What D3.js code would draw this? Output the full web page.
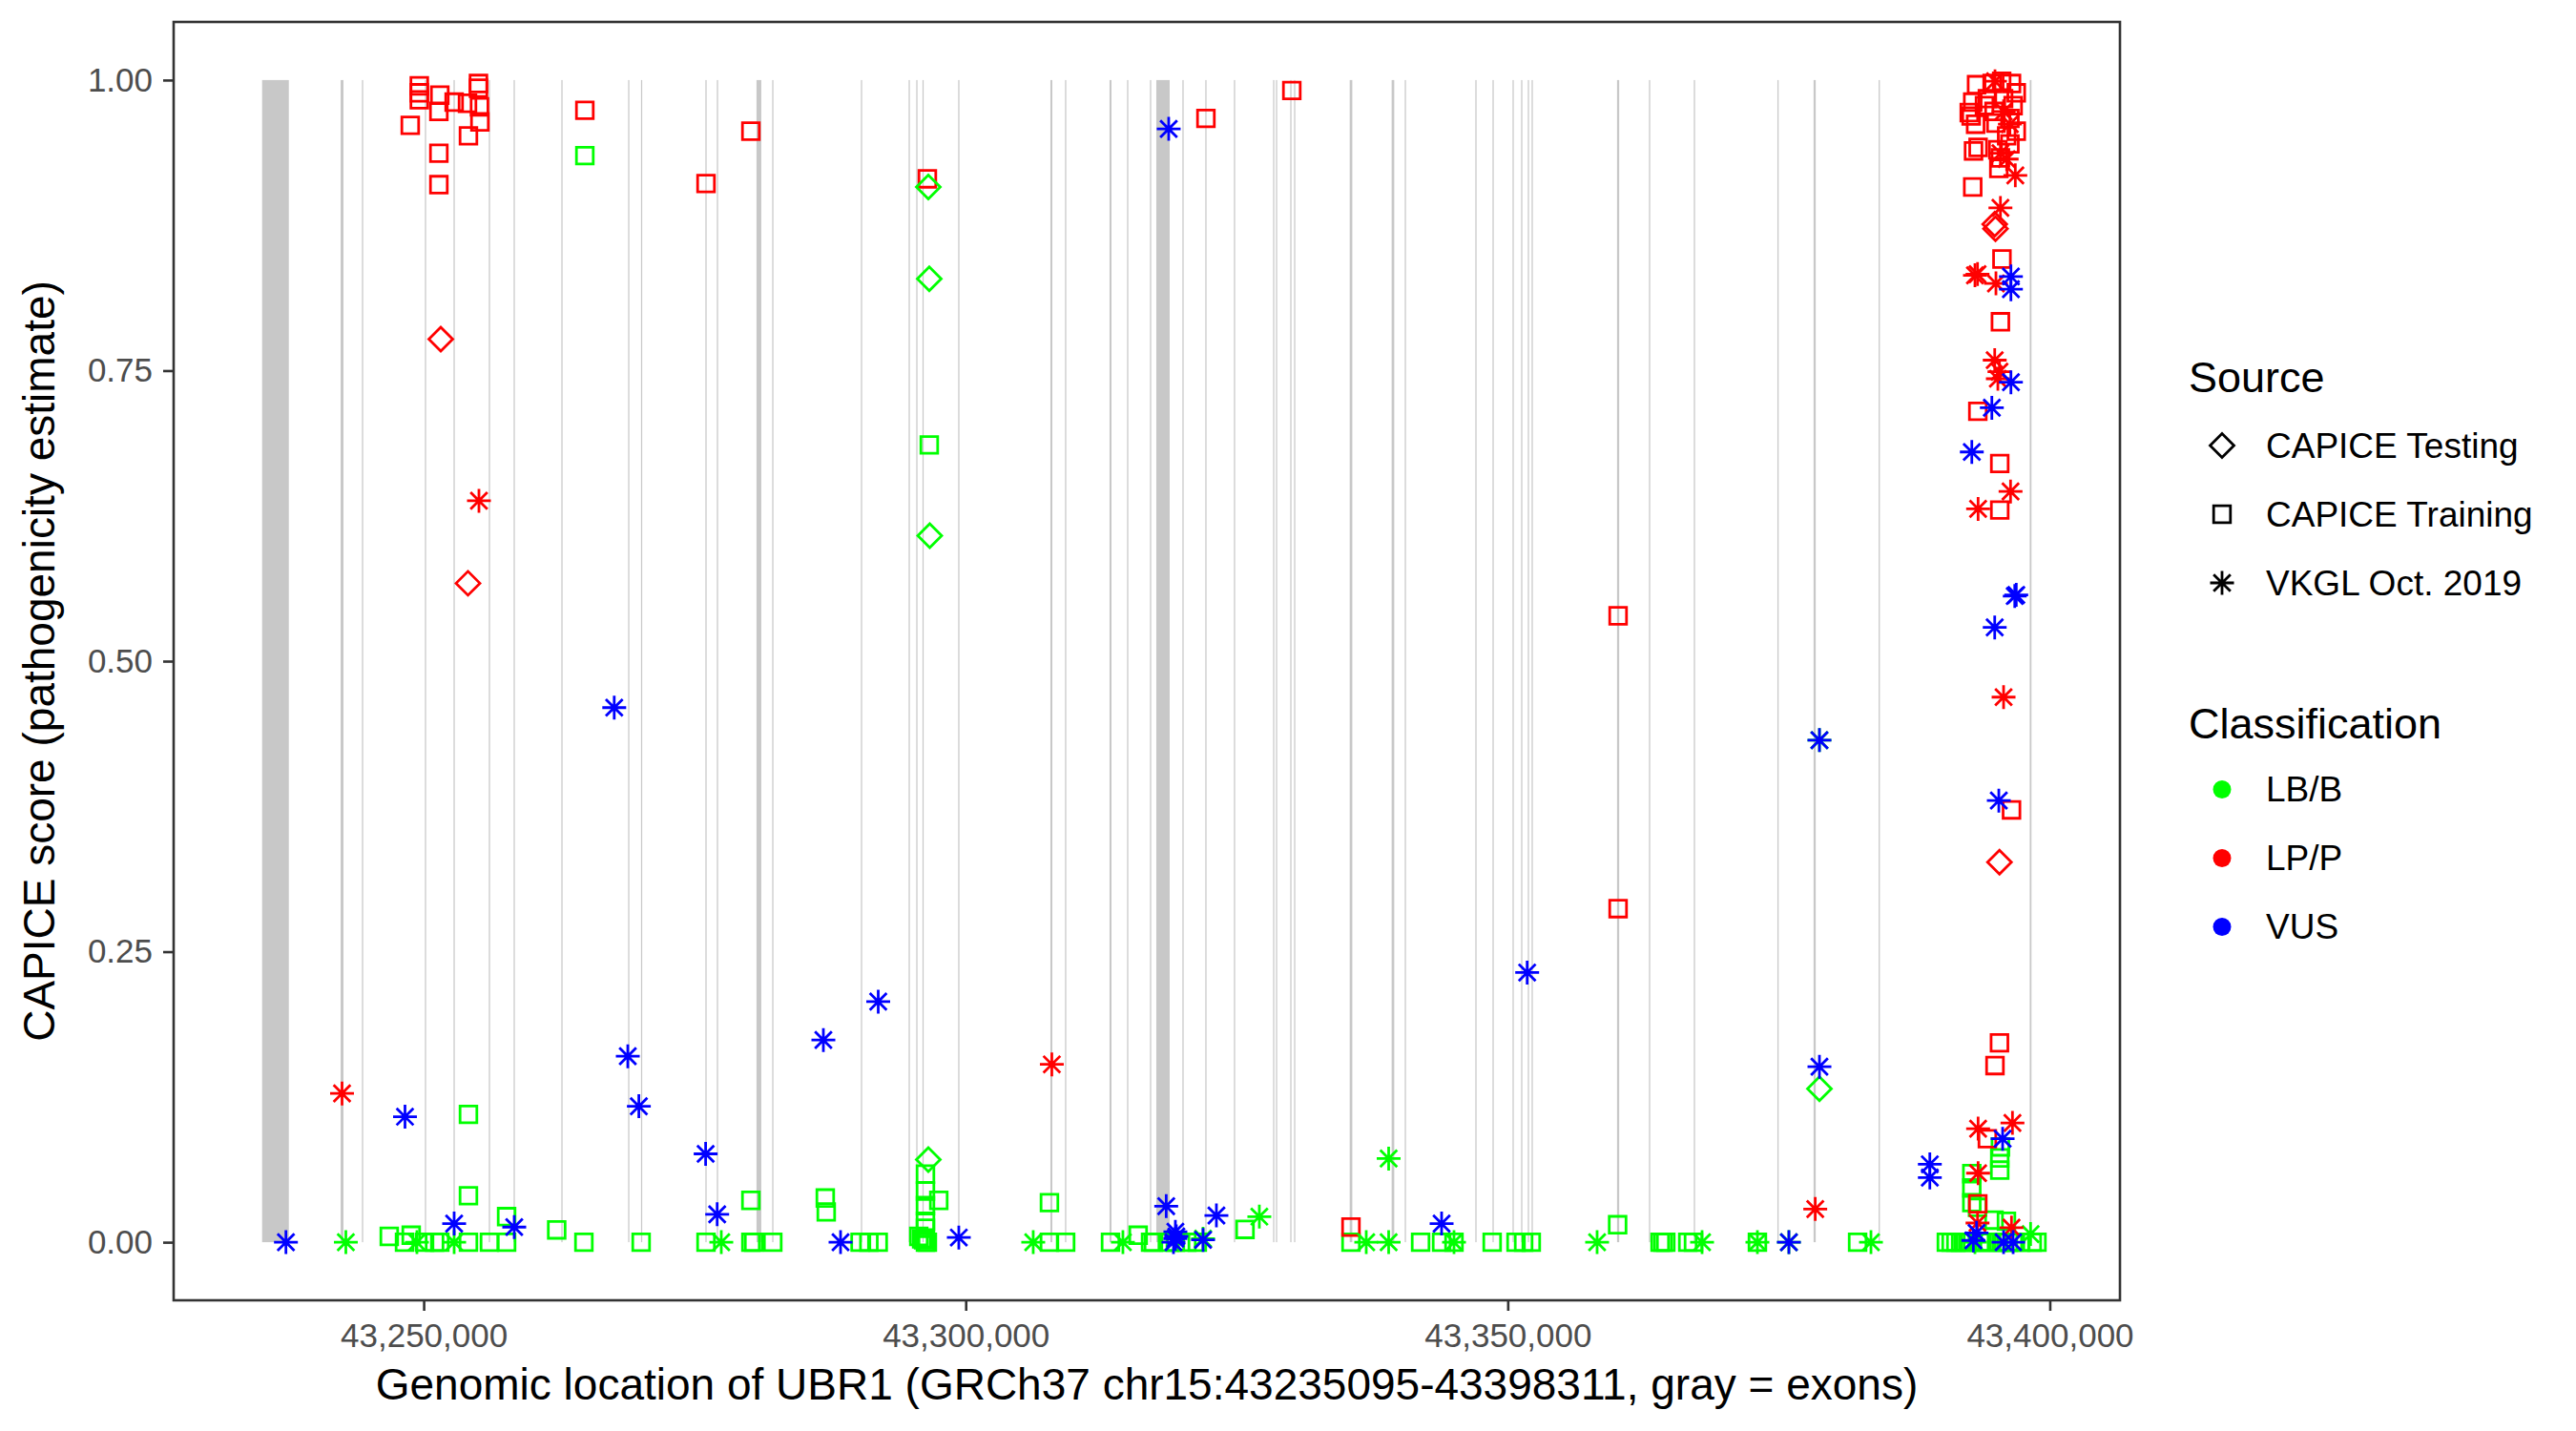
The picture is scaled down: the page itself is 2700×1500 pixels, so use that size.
<!DOCTYPE html>
<html>
<head>
<meta charset="utf-8">
<script src="https://cdn.jsdelivr.net/npm/d3@7"></script>
<style>
  body { margin: 0; background: #fff; }
  svg { display: block; font-family: "Liberation Sans", Arial, Helvetica, sans-serif; }
</style>
</head>
<body>
<svg id="chart" width="2700" height="1500"></svg>
<script>
// ---- data ----
const sources = ['CAPICE Testing', 'CAPICE Training', 'VKGL Oct. 2019']
const classes = ['LB/B', 'LP/P', 'VUS']
const xTicks = [43250000, 43300000, 43350000, 43400000]
const yTicks = [0, 0.25, 0.5, 0.75, 1]

// gray = exons
const exonStarts = [43235095, 43242340, 43244305, 43250113, 43252754, 43256010, 43258298, 43262699, 43268860, 43270048,
  43275988, 43277045, 43280700, 43282149, 43290334, 43294735, 43295439, 43296011, 43299307, 43307810,
  43309164, 43313266, 43314885, 43316997, 43317580, 43319990, 43322102, 43324742, 43328354, 43328618,
  43329938, 43330290, 43335420, 43339290, 43340499, 43347011, 43348595, 43350443, 43351235, 43351851,
  43352203, 43360080, 43363028, 43367165, 43374875, 43378210, 43384215, 43398150]
const exonEnds = [43237560, 43242600, 43244415, 43250223, 43252864, 43256120, 43258408, 43262809, 43268970, 43270158,
  43276098, 43277155, 43281140, 43282259, 43290444, 43294845, 43295549, 43296121, 43299417, 43307990,
  43309274, 43313446, 43314995, 43317107, 43318812, 43320100, 43322212, 43324852, 43328464, 43328728,
  43330048, 43330400, 43335660, 43339530, 43340609, 43347121, 43348705, 43350553, 43351345, 43351961,
  43352313, 43360280, 43363138, 43367275, 43374985, 43378410, 43384325, 43398311]

// [position, CAPICE score]
const trainingLBB = [
  [43264866, 0.935], [43296638, 0.686], [43254129, 0.110], [43254129, 0.040], [43257649, 0.022], [43262270, 0.0106],
  [43280180, 0.036], [43287045, 0.038], [43287133, 0.026], [43296286, 0.0586], [43296286, 0.044], [43296286, 0.0315],
  [43296286, 0.018], [43296286, 0.012], [43297514, 0.036], [43307723, 0.034], [43325765, 0.011], [43360135, 0.015],
  [43246824, 0.005], [43248232, 0], [43248848, 0.006], [43250080, 0], [43251005, 0], [43251488, 0], [43254129, 0],
  [43256065, 0], [43257649, 0], [43264778, 0], [43270059, 0], [43276043, 0], [43280180, 0], [43280444, 0],
  [43282204, 0], [43290257, 0], [43291067, 0], [43291929, 0], [43295670, 0.005], [43295934, 0.003], [43296110, 0.002],
  [43296286, 0], [43296462, 0], [43307723, 0], [43309219, 0], [43313356, 0], [43315908, 0.006], [43317052, 0],
  [43317316, 0], [43318812, 0], [43319340, 0], [43320397, 0], [43321365, 0], [43335538, 0], [43341962, 0],
  [43343898, 0], [43345042, 0], [43348562, 0], [43350762, 0], [43351466, 0], [43352170, 0], [43364052, 0],
  [43364316, 0], [43364580, 0], [43366604, 0], [43367132, 0], [43373029, 0], [43382272, 0],
  [43390457, 0], [43390897, 0], [43391337, 0], [43391777, 0], [43392217, 0], [43392657, 0], [43393537, 0],
  [43393977, 0], [43394417, 0], [43395297, 0], [43395737, 0], [43396177, 0], [43396618, 0], [43397322, 0],
  [43398378, 0], [43398818, 0],
  [43395446, 0.082], [43395385, 0.0725], [43395385, 0.062], [43392807, 0.059], [43392807, 0.0466], [43392807, 0.034],
  [43393334, 0.030], [43394857, 0.019], [43396001, 0.018]
]
const trainingLPP = [
  [43249596, 0.995], [43249596, 0.989], [43249596, 0.983], [43251488, 0.987], [43252809, 0.981], [43254041, 0.980],
  [43255053, 0.997], [43255053, 0.993], [43255150, 0.977], [43255185, 0.964], [43251400, 0.973], [43248760, 0.961],
  [43254129, 0.952], [43251400, 0.937], [43251400, 0.910], [43264866, 0.974], [43280180, 0.956], [43276043, 0.911],
  [43296462, 0.915], [43322157, 0.967], [43330081, 0.991], [43360179, 0.539], [43360179, 0.287], [43335538, 0.013],
  [43393246, 0.996], [43392892, 0.981], [43392745, 0.969], [43393158, 0.962], [43392965, 0.939], [43393387, 0.942],
  [43392892, 0.908], [43394681, 0.997], [43395561, 0.999], [43396468, 0.997], [43396908, 0.989], [43396618, 0.978],
  [43394857, 0.973], [43395033, 0.963], [43396321, 0.967], [43396908, 0.956], [43396022, 0.952], [43395209, 0.940],
  [43396321, 0.945], [43395297, 0.924], [43395446, 0.933], [43394241, 0.984], [43395737, 0.984], [43395588, 0.846],
  [43395446, 0.792], [43392569, 0.972], [43393977, 0.978], [43393361, 0.715], [43395385, 0.670], [43395385, 0.630],
  [43396468, 0.372], [43395359, 0.1715], [43394945, 0.152], [43394241, 0.089], [43393361, 0.033]
]
const testingLBB = [[43296550, 0.908], [43296638, 0.829], [43296682, 0.608], [43296550, 0.071], [43378751, 0.132]]
const testingLPP = [[43251576, 0.777], [43254085, 0.567], [43394919, 0.876], [43394990, 0.872], [43395359, 0.327]]
const vkglLBB = [
  [43242820, 0], [43249376, 0], [43252809, 0], [43277452, 0], [43306227, 0], [43314500, 0], [43321893, 0.003],
  [43327085, 0.022], [43336946, 0], [43339014, 0.072], [43339014, 0], [43345042, 0], [43358242, 0], [43367924, 0],
  [43373029, 0], [43375933, 0], [43378751, 0.432], [43383504, 0], [43393097, 0], [43398229, 0.007]
]
const vkglLPP = [
  [43242468, 0.128], [43255097, 0.638], [43307943, 0.153], [43378364, 0.0285], [43394945, 0.999], [43395446, 0.937],
  [43396022, 0.932], [43396820, 0.918], [43395446, 0.890], [43393334, 0.833], [43393097, 0.832], [43395033, 0.825],
  [43395737, 0.973], [43396321, 0.962], [43394919, 0.759], [43395359, 0.749], [43395209, 0.743], [43396380, 0.646],
  [43393387, 0.631], [43395737, 0.469], [43393387, 0.0977], [43396556, 0.1026], [43393387, 0.0594], [43393334, 0.0165],
  [43396468, 0.0125]
]
const vkglVUS = [
  [43237293, 0], [43248276, 0.108], [43252809, 0.016], [43258353, 0.013], [43267577, 0.460], [43268827, 0.160],
  [43269848, 0.117], [43276008, 0.076], [43277073, 0.024], [43286869, 0.174], [43288453, 0], [43291929, 0.207],
  [43299362, 0.004], [43318495, 0.031], [43319340, 0.009], [43319340, 0.003], [43319164, 0], [43319428, 0.005],
  [43318724, 0.958], [43323125, 0.023], [43321893, 0.002], [43343898, 0.016], [43351791, 0.232], [43375933, 0],
  [43378751, 0.432], [43378751, 0.151], [43396415, 0.831], [43396415, 0.820], [43396415, 0.740], [43394655, 0.718],
  [43392807, 0.680], [43396767, 0.556], [43396908, 0.557], [43394919, 0.529], [43395297, 0.380], [43395649, 0.089],
  [43388934, 0.067], [43388934, 0.0556], [43392950, 0.0015], [43395737, 0], [43396618, 0], [43393246, 0.008]
]

// ---- layout ----
const panel = {left: 182, right: 2222, top: 23, bottom: 1363}
const colors = {'LB/B': '#00ff00', 'LP/P': '#ff0000', 'VUS': '#0000ff'}
const font = '"Liberation Sans", Arial, Helvetica, sans-serif'

// draw order like the data rows: training, testing, vkgl
let layers = [
  {src: 'CAPICE Training', cls: 'LB/B', pts: trainingLBB},
  {src: 'CAPICE Training', cls: 'LP/P', pts: trainingLPP},
  {src: 'CAPICE Testing', cls: 'LB/B', pts: testingLBB},
  {src: 'CAPICE Testing', cls: 'LP/P', pts: testingLPP},
  {src: 'VKGL Oct. 2019', cls: 'LB/B', pts: vkglLBB},
  {src: 'VKGL Oct. 2019', cls: 'LP/P', pts: vkglLPP},
  {src: 'VKGL Oct. 2019', cls: 'VUS', pts: vkglVUS}
]

// x range = exon span + 5% each side (ggplot default)
let xMin = d3.min(exonStarts)
let xMax = d3.max(exonEnds)
let xPad = (xMax - xMin) * 0.05
let xScale = d3.scaleLinear().domain([xMin - xPad, xMax + xPad]).range([panel.left, panel.right])
let yScale = d3.scaleLinear().domain([-0.05, 1.05]).range([panel.bottom, panel.top])

// marker paths (R pch 5, 0, 8)
function shapePath(src) {
  if (src === 'CAPICE Testing') {
    let d = 12.5
    return `M0,${-d}L${d},0L0,${d}L${-d},0Z`
  }
  if (src === 'CAPICE Training') {
    let s = 8.8
    return `M${-s},${-s}H${s}V${s}H${-s}Z`
  }
  let a = 12.5, b = a * Math.SQRT1_2
  return `M${-a},0H${a}M0,${-a}V${a}M${-b},${-b}L${b},${b}M${-b},${b}L${b},${-b}`
}

let svg = d3.select('#chart')

svg.append('defs').append('clipPath').attr('id', 'panel-clip')
  .append('rect')
  .attr('x', panel.left).attr('y', panel.top)
  .attr('width', panel.right - panel.left).attr('height', panel.bottom - panel.top)

let plot = svg.append('g').attr('clip-path', 'url(#panel-clip)')

// exons
let exons = exonStarts.map((s, i) => ({start: s, end: exonEnds[i]}))
plot.append('g').selectAll('rect').data(exons).join('rect')
  .attr('x', d => xScale(d.start))
  .attr('width', d => Math.max(1, xScale(d.end) - xScale(d.start)))
  .attr('y', yScale(1))
  .attr('height', yScale(0) - yScale(1))
  .attr('fill', '#c8c8c8')

// points
for (let i = 0; i < layers.length; i++) {
  let layer = layers[i]
  plot.append('g').selectAll('path').data(layer.pts).join('path')
    .attr('transform', d => 'translate(' + xScale(d[0]) + ',' + yScale(d[1]) + ')')
    .attr('d', shapePath(layer.src))
    .attr('fill', 'none')
    .attr('stroke', colors[layer.cls])
    .attr('stroke-width', 2.8)
}

// axes
let xAxis = svg.append('g')
  .attr('transform', 'translate(0,' + panel.bottom + ')')
  .call(d3.axisBottom(xScale).tickValues(xTicks).tickFormat(d3.format(',')).tickSize(11).tickPadding(13))
let yAxis = svg.append('g')
  .attr('transform', 'translate(' + panel.left + ',0)')
  .call(d3.axisLeft(yScale).tickValues(yTicks).tickFormat(d3.format('.2f')).tickSize(11).tickPadding(11))
for (let ax of [xAxis, yAxis]) {
  ax.select('.domain').remove()
  ax.selectAll('.tick line').attr('stroke', '#333333').attr('stroke-width', 2.6)
  ax.selectAll('.tick text').attr('fill', '#4d4d4d').attr('font-size', 35).attr('font-family', font)
}

// panel border on top
svg.append('rect')
  .attr('x', panel.left).attr('y', panel.top)
  .attr('width', panel.right - panel.left).attr('height', panel.bottom - panel.top)
  .attr('fill', 'none').attr('stroke', '#333333').attr('stroke-width', 2.6)

// axis titles
svg.append('text')
  .attr('x', (panel.left + panel.right) / 2).attr('y', 1467)
  .attr('text-anchor', 'middle').attr('font-size', 46).attr('fill', '#000')
  .text('Genomic location of UBR1 (GRCh37 chr15:43235095-43398311, gray = exons)')
svg.append('text')
  .attr('transform', 'translate(57,' + (panel.top + panel.bottom) / 2 + ') rotate(-90)')
  .attr('text-anchor', 'middle').attr('font-size', 46).attr('fill', '#000')
  .text('CAPICE score (pathogenicity estimate)')

// legend: Source
let legend = svg.append('g')
legend.append('text').attr('x', 2294).attr('y', 411).attr('font-size', 45).text('Source')
let srcRows = [467, 539, 611]
sources.forEach((s, i) => {
  legend.append('path')
    .attr('transform', 'translate(2329,' + srcRows[i] + ')')
    .attr('d', shapePath(s))
    .attr('fill', 'none').attr('stroke', '#000').attr('stroke-width', 2.8)
  legend.append('text').attr('x', 2375).attr('y', srcRows[i]).attr('dy', '0.35em')
    .attr('font-size', 37).text(s)
})

// legend: Classification
legend.append('text').attr('x', 2294).attr('y', 774).attr('font-size', 45).text('Classification')
let clsRows = [827.5, 899.5, 971.5]
classes.forEach((c, i) => {
  legend.append('circle').attr('cx', 2329).attr('cy', clsRows[i]).attr('r', 9.5).attr('fill', colors[c])
  legend.append('text').attr('x', 2375).attr('y', clsRows[i]).attr('dy', '0.35em')
    .attr('font-size', 37).text(c)
})
</script>
</body>
</html>
